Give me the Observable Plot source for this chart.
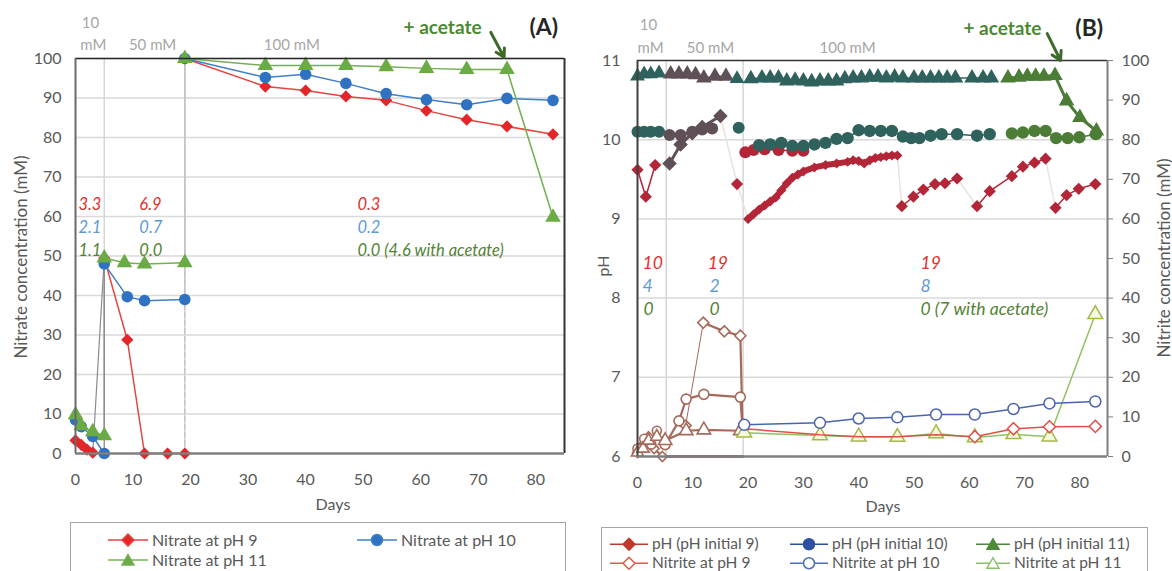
<!DOCTYPE html>
<html><head><meta charset="utf-8">
<script src="https://cdn.jsdelivr.net/npm/d3@7"></script>
<script src="https://cdn.jsdelivr.net/npm/@observablehq/plot@0.6"></script>
<style>
html,body{margin:0;padding:0;background:#fff;}
#wrap{position:relative;width:1172px;height:571px;overflow:hidden;font-family:Lato,"Open Sans",sans-serif;color:#595959;}
.t{position:absolute;white-space:nowrap;font-size:16px;color:#595959;line-height:1;}
.rot{transform:translate(-50%,-50%) rotate(-90deg);}
.ctr{transform:translate(-50%,-50%);}
.legend{position:absolute;border:1.5px solid #a6a6a6;box-sizing:border-box;background:#fff;}
.li{position:absolute;display:flex;align-items:center;white-space:nowrap;color:#595959;transform:translateY(-50%);line-height:1;}
.li svg{margin-right:4px;}
</style></head>
<body><div id="wrap"></div>
<script>
// ================= PANEL A : nitrate concentration (mM) =================
const A9_days1 = [0, 1, 2, 3];
const A9_vals1 = [3.3, 2.2, 1.0, 0.2];
const A9_days2 = [5, 9, 12, 16, 19];
const A9_vals2 = [49.5, 28.8, 0, 0, 0];
const A9_days3 = [19, 33, 40, 47, 54, 61, 68, 75, 83];
const A9_vals3 = [100, 92.9, 91.9, 90.4, 89.4, 86.8, 84.5, 82.8, 80.8];

const A10_days1 = [0, 1, 3, 5];
const A10_vals1 = [8.5, 6.8, 4.3, 0];
const A10_days2 = [5, 9, 12, 19];
const A10_vals2 = [48, 39.7, 38.7, 39];
const A10_days3 = [19, 33, 40, 47, 54, 61, 68, 75, 83];
const A10_vals3 = [100, 95.2, 96, 93.7, 91.1, 89.6, 88.3, 89.9, 89.4];

const A11_days1 = [0, 1, 3, 5];
const A11_vals1 = [9.8, 7, 5.5, 4.5];
const A11_days2 = [5, 8.5, 12, 19];
const A11_vals2 = [49.5, 48.3, 48, 48.3];
const A11_days3 = [19, 33, 40, 47, 54, 61, 68, 75, 83];
const A11_vals3 = [100, 98.2, 98.2, 98.2, 97.9, 97.5, 97.2, 97.2, 59.8];

const phaseDaysA = [5, 19];
const ticksA_x = [0, 10, 20, 30, 40, 50, 60, 70, 80];
const ticksA_y = [0, 10, 20, 30, 40, 50, 60, 70, 80, 90, 100];

const ratesA_text = ["3.3", "2.1", "1.1", "6.9", "0.7", "0.0", "0.3", "0.2", "0.0 (4.6 with acetate)"];
const ratesA_day = [0.5, 0.5, 0.5, 11.1, 11.1, 11.1, 49, 49, 49];
const ratesA_val = [63, 57.2, 51.4, 63, 57.2, 51.4, 63, 57.2, 51.4];

const topA_text = ["10", "mM", "50 mM", "100 mM"];
const topA_day = [2.6, 3.1, 13.4, 37.6];
const topA_val = [108.9, 103.3, 103.3, 103.3];

// ================= PANEL B : pH (left) and nitrite (right) =================
const B9_days1 = [0, 1.5, 3.2];
const B9_vals1 = [9.62, 9.28, 9.68];
const B9_days2 = [5.8, 7.8, 9.9, 11.7, 15];
const B9_vals2 = [9.7, 9.94, 10.08, 10.16, 10.3];
const B9_days2b = [18];
const B9_vals2b = [9.44];
const B9_days3 = [20, 21, 22, 23, 24, 25, 26, 27, 28, 29, 30, 32, 34, 36, 38, 39, 40, 41, 42, 43, 44, 45, 46, 47];
const B9_vals3 = [9.0, 9.06, 9.12, 9.17, 9.22, 9.27, 9.36, 9.45, 9.52, 9.56, 9.6, 9.65, 9.68, 9.7, 9.72, 9.74, 9.73, 9.7, 9.74, 9.77, 9.78, 9.79, 9.8, 9.8];
const B9_days4 = [47.8, 49.9, 51.7, 53.8, 55.6, 57.8];
const B9_vals4 = [9.16, 9.28, 9.37, 9.44, 9.45, 9.51];
const B9_days5 = [61.4, 63.7, 67.7, 69.7, 71.8, 73.8];
const B9_vals5 = [9.16, 9.35, 9.54, 9.66, 9.71, 9.76];
const B9_days6 = [75.6, 77.6, 79.8, 82.8];
const B9_vals6 = [9.14, 9.3, 9.38, 9.44];

const B10_days1 = [0, 1.2, 2.4, 3.9];
const B10_vals1 = [10.1, 10.1, 10.1, 10.1];
const B10_days2 = [5.8, 7.8, 9.9, 11.7, 13.5];
const B10_vals2 = [10.06, 10.06, 10.1, 10.13, 10.14];
const B10_days2b = [18.3];
const B10_vals2b = [10.15];
const B10_daysR = [19.5, 21, 23, 25.5, 28, 30];
const B10_valsR = [9.84, 9.87, 9.88, 9.87, 9.86, 9.86];
const B10_days3 = [22, 24, 26, 28, 30, 32, 34, 36, 38, 40, 42, 44, 46, 48, 49.5, 51, 53, 55, 57.8, 61.4, 63.7];
const B10_vals3 = [9.93, 9.94, 9.96, 9.92, 9.92, 9.94, 9.96, 10.01, 10.02, 10.12, 10.11, 10.11, 10.11, 10.04, 10.02, 10.02, 10.05, 10.07, 10.07, 10.05, 10.07];
const B10_days4 = [67.7, 69.7, 71.8, 73.8, 75.7, 77.8, 79.9, 82.9];
const B10_vals4 = [10.08, 10.09, 10.11, 10.11, 10.02, 10.02, 10.03, 10.07];

const B11_days1 = [0, 1.2, 2.4, 3.9];
const B11_vals1 = [10.8, 10.83, 10.83, 10.84];
const B11_days2 = [6, 7.5, 9, 10.5, 12, 14, 16];
const B11_vals2 = [10.83, 10.83, 10.83, 10.82, 10.78, 10.8, 10.8];
const B11_days2b = [18];
const B11_vals2b = [10.77];
const B11_days3 = [20.5, 22.5, 24, 25.5, 27, 28.5, 30, 31.5, 33, 34.5, 36, 37.5, 39, 40.5, 42, 43.5, 45, 46.5, 48, 50, 51.5, 53, 54.5, 56, 57.5, 60.5, 62.5, 64];
const B11_vals3 = [10.77, 10.78, 10.78, 10.78, 10.74, 10.75, 10.74, 10.73, 10.74, 10.74, 10.74, 10.77, 10.78, 10.78, 10.79, 10.79, 10.78, 10.79, 10.78, 10.78, 10.78, 10.78, 10.78, 10.78, 10.78, 10.78, 10.78, 10.78];
const B11_days4 = [67, 69, 70.5, 72, 73.5, 75.5, 77.6, 80, 83];
const B11_vals4 = [10.78, 10.79, 10.8, 10.8, 10.8, 10.81, 10.49, 10.28, 10.11];

// nitrite (mM), right axis 0-100
const N9_days1 = [0, 1, 2, 3, 4.5];
const N9_vals1 = [1, 3, 5, 2, 0];
const N9_days2 = [5, 8.7, 11.9, 15.7, 18.6, 19];
const N9_vals2 = [0, 7.8, 33.8, 31.6, 30.5, 7];
const N10_days1 = [0, 1.2, 2.5, 3.5];
const N10_vals1 = [2, 4.5, 3, 6.5];
const N10_days2 = [5, 7.5, 8.8, 12, 18.6, 19];
const N10_vals2 = [3, 9, 14.5, 15.7, 15, 7];
const N11_days1 = [0, 1, 2, 3.5];
const N11_vals1 = [1, 2, 4, 5];
const N11_days2 = [5, 8.8, 12, 18.6];
const N11_vals2 = [4, 6.5, 6.7, 6.5];
const Nbase_days = [5, 19];
const Nbase_vals = [0, 0];

const N_days3 = [19.3, 33, 40, 47, 54, 61, 68, 74.5, 82.8];
const N9_vals3 = [7, 5.5, 5, 5, 5.5, 5, 7, 7.5, 7.6];
const N10_vals3 = [8, 8.5, 9.6, 9.9, 10.6, 10.6, 12, 13.4, 13.9];
const N11_vals3 = [6, 5.3, 5, 4.9, 5.8, 4.8, 5.6, 5.0, 35.9];

const phaseDaysB = [5.2, 19.1];
const ticksB_x = [0, 10, 20, 30, 40, 50, 60, 70, 80];
const ticksB_pH = [6, 7, 8, 9, 10, 11];
const ticksB_nitrite = [6, 6.5, 7, 7.5, 8, 8.5, 9, 9.5, 10, 10.5, 11];

const ratesB_text = ["10", "4", "0", "19", "2", "0", "19", "8", "0 (7 with acetate)"];
const ratesB_day = [0.9, 0.9, 1.1, 12.7, 13, 13, 51.2, 51.2, 51.2];
const ratesB_val = [8.437, 8.146, 7.856, 8.437, 8.146, 7.856, 8.437, 8.146, 7.856];

const topB_text = ["10", "mM", "50 mM", "100 mM"];
const topB_day = [2.0, 2.35, 13.2, 38];
const topB_val = [11.44, 11.16, 11.16, 11.16];

// ================= helpers =================
const pts = (days, vals) => days.map((d, i) => ({x: d, y: vals[i]}));
const lbl = (texts, days, vals) => texts.map((t, i) => ({t, x: days[i], y: vals[i], row: i % 3}));
const wrap = document.getElementById("wrap");
const baseStyle = {fontFamily: "Lato, 'Open Sans', sans-serif", fontSize: "16px", color: "#595959", background: "transparent", overflow: "visible"};

function series(data, o) {
  const y = o.y || "y";
  const out = [];
  out.push(Plot.line(data, {x: "x", y, stroke: o.line, strokeWidth: o.sw || 1.5, curve: "linear"}));
  out.push(Plot.dot(data, {x: "x", y, symbol: o.symbol, r: o.r || 5.5, fill: o.fill, stroke: o.stroke || "none", strokeWidth: o.dsw || 1.5}));
  return out;
}
const rateColor = ["#e2302b", "#5b9bd5", "#548235"];

// ================= PANEL A marks =================
const A9 = [pts(A9_days1, A9_vals1), pts(A9_days2, A9_vals2), pts(A9_days3, A9_vals3)];
const A10 = [pts(A10_days1, A10_vals1), pts(A10_days2, A10_vals2), pts(A10_days3, A10_vals3)];
const A11 = [pts(A11_days1, A11_vals1), pts(A11_days2, A11_vals2), pts(A11_days3, A11_vals3)];
const styA = [
  {ser: A9, line: "#e4453f", fill: "#e3262a", symbol: "diamond2", r: 5.5},
  {ser: A10, line: "#3f7fc8", fill: "#2f72c2", symbol: "circle", r: 5.8},
  {ser: A11, line: "#74b053", fill: "#6aab45", symbol: "triangle", r: 5.8}
];
const marksA = [
  Plot.gridY(ticksA_y.slice(1), {stroke: "#d9d9d9", strokeOpacity: 1, strokeWidth: 1.5}),
  Plot.ruleX(phaseDaysA, {stroke: "#d6d6d6", strokeWidth: 1.5})
];
for (const s of styA) {
  marksA.push(Plot.line([s.ser[0].at(-1), s.ser[1][0]], {x: "x", y: "y", stroke: "#8c8c8c", strokeWidth: 1.2}));
  marksA.push(Plot.line([s.ser[1].at(-1), s.ser[2][0]], {x: "x", y: "y", stroke: "#c4c4c4", strokeWidth: 1.3, strokeDasharray: "5,3"}));
}
for (const s of styA) for (const seg of s.ser) marksA.push(...series(seg, s));
marksA.push(
  Plot.ruleY([100], {stroke: "#262626", strokeWidth: 1.5}),
  Plot.ruleX([85], {stroke: "#333333", strokeWidth: 2}),
  Plot.ruleX([0], {stroke: "#6b6b6b", strokeWidth: 2}),
  Plot.ruleY([0], {stroke: "#7f7f7f", strokeWidth: 2.5}),
  Plot.axisY({ticks: ticksA_y, tickSize: 0, tickPadding: 14, label: null, fontSize: 16}),
  Plot.axisX({ticks: ticksA_x, tickSize: 0, tickPadding: 20, label: null, fontSize: 16}),
  Plot.text(lbl(ratesA_text, ratesA_day, ratesA_val), {x: "x", y: "y", text: "t", textAnchor: "start", fontStyle: "italic", fontSize: 16.5, fill: d => rateColor[d.row]}),
  Plot.text(lbl(topA_text, topA_day, topA_val), {x: "x", y: "y", text: "t", fill: "#a6a6a6", fontSize: 15}),
  Plot.text([{x: 63.8, y: 107.8}], {x: "x", y: "y", text: () => "+ acetate", fill: "#4b8a33", fontWeight: "bold", fontSize: 19}),
  Plot.text([{x: 81.4, y: 107.8}], {x: "x", y: "y", text: () => "(A)", fill: "#262626", fontWeight: "bold", fontSize: 23}),
  Plot.arrow([{x1: 72.2, y1: 106.6, x2: 74.5, y2: 100.3}], {x1: "x1", y1: "y1", x2: "x2", y2: "y2", stroke: "#3d6b2c", strokeWidth: 3, headLength: 9})
);
const svgA = Plot.plot({
  width: 580, height: 520,
  marginLeft: 75, marginRight: 16, marginTop: 58, marginBottom: 67,
  x: {domain: [0, 85], label: null},
  y: {domain: [0, 100], label: null},
  style: baseStyle,
  marks: marksA
});
svgA.style.position = "absolute"; svgA.style.left = "0px"; svgA.style.top = "0px";
wrap.appendChild(svgA);

// ================= PANEL B marks =================
const red = "#b32638", teal = "#2f625c", mauve = "#5f5058", grn = "#4b7d37", brown = "#a56a5b";
const nY = d => 6 + d.y / 20;
const p9 = [pts(B9_days1, B9_vals1), pts(B9_days2, B9_vals2), pts(B9_days2b, B9_vals2b), pts(B9_days3, B9_vals3), pts(B9_days4, B9_vals4), pts(B9_days5, B9_vals5), pts(B9_days6, B9_vals6)];
const marksB = [
  Plot.gridY([7, 8, 9, 10], {stroke: "#d9d9d9", strokeOpacity: 1, strokeWidth: 1.5}),
  Plot.ruleX(phaseDaysB, {stroke: "#d6d6d6", strokeWidth: 1.5})
];
for (let i = 1; i < p9.length; i++) {
  marksB.push(Plot.line([p9[i - 1].at(-1), p9[i][0]], {x: "x", y: "y", stroke: "#e9e3dd", strokeWidth: 1.5}));
}
const brownSty = {line: brown, fill: "#fff", stroke: brown, r: 4.5, sw: 2.2, dsw: 1.6, y: nY};
marksB.push(Plot.line(pts(Nbase_days, Nbase_vals), {x: "x", y: nY, stroke: brown, strokeWidth: 3}));
marksB.push(...series(pts(N9_days1, N9_vals1), {...brownSty, symbol: "diamond2"}));
marksB.push(...series(pts(N10_days1, N10_vals1), {...brownSty, symbol: "circle"}));
marksB.push(...series(pts(N11_days1, N11_vals1), {...brownSty, symbol: "triangle"}));
marksB.push(Plot.line(pts(N9_days2, N9_vals2).slice(1, 3), {x: "x", y: nY, stroke: brown, strokeWidth: 1}));
marksB.push(Plot.line(pts(N9_days2, N9_vals2).slice(2), {x: "x", y: nY, stroke: brown, strokeWidth: 2.2}));
marksB.push(Plot.dot(pts(N9_days2, N9_vals2).slice(1, 5), {x: "x", y: nY, symbol: "diamond2", r: 5, fill: "#fff", stroke: brown, strokeWidth: 1.6}));
marksB.push(...series(pts(N10_days2, N10_vals2), {...brownSty, symbol: "circle", r: 5}));
marksB.push(...series(pts(N11_days2, N11_vals2), {...brownSty, symbol: "triangle", r: 5}));
marksB.push(...series(pts(N_days3, N11_vals3), {line: "#8dc45f", fill: "#f6f8dc", stroke: "#a3b94a", symbol: "triangle", r: 5.5, sw: 1.5, y: nY}));
marksB.push(...series(pts(N_days3, N9_vals3).slice(0, 6), {line: "#e0504a", fill: "none", stroke: "none", symbol: "diamond2", r: 0.1, y: nY}));
marksB.push(...series(pts(N_days3, N9_vals3).slice(5), {line: "#e0504a", fill: "#fff", stroke: "#e0504a", symbol: "diamond2", r: 5.5, y: nY}));
marksB.push(...series(pts(N_days3, N10_vals3), {line: "#4c64b0", fill: "#fff", stroke: "#4c64b0", symbol: "circle", r: 5.5, y: nY}));
marksB.push(...series(pts(B10_daysR, B10_valsR), {line: red, fill: red, symbol: "circle", r: 6}));
marksB.push(...series(p9[0], {line: red, fill: red, symbol: "diamond2", r: 5.5}));
marksB.push(...series(p9[1], {line: mauve, fill: mauve, symbol: "diamond2", r: 6.5, sw: 3}));
marksB.push(...series(p9[2], {line: red, fill: red, symbol: "diamond2", r: 5.5}));
marksB.push(...series(p9[3], {line: red, fill: red, symbol: "diamond2", r: 4.5, sw: 6}));
marksB.push(...series(p9[4], {line: red, fill: red, symbol: "diamond2", r: 5.5}));
marksB.push(...series(p9[5], {line: red, fill: red, symbol: "diamond2", r: 5.5}));
marksB.push(...series(p9[6], {line: red, fill: red, symbol: "diamond2", r: 5.5}));
marksB.push(...series(pts(B10_days1, B10_vals1), {line: teal, fill: teal, symbol: "circle", r: 6}));
marksB.push(...series(pts(B10_days2, B10_vals2), {line: mauve, fill: mauve, symbol: "circle", r: 6}));
marksB.push(...series(pts(B10_days2b, B10_vals2b), {line: teal, fill: teal, symbol: "circle", r: 6}));
marksB.push(...series(pts(B10_days3, B10_vals3), {line: teal, fill: teal, symbol: "circle", r: 6.2}));
marksB.push(...series(pts(B10_days4, B10_vals4), {line: grn, fill: grn, symbol: "circle", r: 6.2}));
marksB.push(...series(pts(B11_days1, B11_vals1), {line: teal, fill: teal, symbol: "triangle", r: 5.5}));
marksB.push(...series(pts(B11_days2, B11_vals2), {line: mauve, fill: mauve, symbol: "triangle", r: 5.8}));
marksB.push(...series(pts(B11_days2b, B11_vals2b), {line: teal, fill: teal, symbol: "triangle", r: 5.5}));
marksB.push(...series(pts(B11_days3, B11_vals3), {line: teal, fill: teal, symbol: "triangle", r: 5.8}));
marksB.push(...series(pts(B11_days4, B11_vals4), {line: grn, fill: grn, symbol: "triangle", r: 5.8, sw: 3}));
marksB.push(
  Plot.ruleY([11], {stroke: "#333333", strokeWidth: 1.5}),
  Plot.ruleX([0], {stroke: "#404040", strokeWidth: 2}),
  Plot.ruleX([85], {stroke: "#7f7f7f", strokeWidth: 2}),
  Plot.ruleY([6], {stroke: "#7f7f7f", strokeWidth: 2.5}),
  Plot.axisY({ticks: ticksB_pH, tickSize: 0, tickPadding: 17, label: null, fontSize: 16, tickFormat: d => String(d)}),
  Plot.axisY({anchor: "right", ticks: ticksB_nitrite, tickSize: 5, tickPadding: 9, stroke: "#7f7f7f", label: null, fontSize: 16, tickFormat: d => String(Math.round((d - 6) * 20))}),
  Plot.axisX({ticks: ticksB_x, tickSize: 0, tickPadding: 20, label: null, fontSize: 16}),
  Plot.text(lbl(ratesB_text, ratesB_day, ratesB_val), {x: "x", y: "y", text: "t", textAnchor: "start", fontStyle: "italic", fontSize: 17.5, fill: d => rateColor[d.row]}),
  Plot.text(lbl(topB_text, topB_day, topB_val), {x: "x", y: "y", text: "t", fill: "#a6a6a6", fontSize: 15}),
  Plot.text([{x: 66, y: 11.4}], {x: "x", y: "y", text: () => "+ acetate", fill: "#4b8a33", fontWeight: "bold", fontSize: 19}),
  Plot.text([{x: 81.7, y: 11.4}], {x: "x", y: "y", text: () => "(B)", fill: "#262626", fontWeight: "bold", fontSize: 23}),
  Plot.arrow([{x1: 74.1, y1: 11.34, x2: 76.5, y2: 11.0}], {x1: "x1", y1: "y1", x2: "x2", y2: "y2", stroke: "#3d6b2c", strokeWidth: 3, headLength: 9})
);
const svgB = Plot.plot({
  width: 592, height: 520,
  marginLeft: 57, marginRight: 65, marginTop: 60, marginBottom: 64,
  x: {domain: [0, 85], label: null},
  y: {domain: [6, 11], label: null},
  style: baseStyle,
  marks: marksB
});
svgB.style.position = "absolute"; svgB.style.left = "580px"; svgB.style.top = "0px";
wrap.appendChild(svgB);

// ================= titles (HTML text) =================
function addText(txt, x, y, cls, extra) {
  const d = document.createElement("div");
  d.className = "t " + cls;
  d.textContent = txt;
  d.style.left = x + "px"; d.style.top = y + "px";
  if (extra) Object.assign(d.style, extra);
  wrap.appendChild(d);
}
addText("Nitrate concentration (mM)", 20, 257, "rot", {fontSize: "17px"});
addText("Days", 333, 504, "ctr");
addText("pH", 603, 266, "rot");
addText("Nitrite concentration (mM)", 1163, 258, "rot", {fontSize: "17px"});
addText("Days", 883, 506, "ctr");

// ================= legends =================
const markerSvg = (sym, color, fill, w) => {
  const c = w / 2;
  let shape = "";
  if (sym === "diamond") shape = `<path d="M${c},1L${c + 6},7L${c},13L${c - 6},7Z" fill="${fill}" stroke="${color}" stroke-width="1.5"/>`;
  if (sym === "circle") shape = `<circle cx="${c}" cy="7" r="5.5" fill="${fill}" stroke="${color}" stroke-width="1.5"/>`;
  if (sym === "triangle") shape = `<path d="M${c},1.5L${c + 6},12L${c - 6},12Z" fill="${fill}" stroke="${color}" stroke-width="1.5"/>`;
  return `<svg width="${w}" height="14" viewBox="0 0 ${w} 14"><line x1="0" y1="7" x2="${w}" y2="7" stroke="${color}" stroke-width="1.6"/>${shape}</svg>`;
};
function legend(box, items, fs) {
  const L = document.createElement("div");
  L.className = "legend";
  Object.assign(L.style, {left: box[0] + "px", top: box[1] + "px", width: box[2] + "px", height: box[3] + "px"});
  for (const it of items) {
    const e = document.createElement("div");
    e.className = "li";
    e.style.left = it.x + "px"; e.style.top = it.y + "px"; e.style.fontSize = fs + "px";
    e.innerHTML = markerSvg(it.sym, it.color, it.fill, it.w) + `<span>${it.label}</span>`;
    L.appendChild(e);
  }
  wrap.appendChild(L);
}
const legendA_labels = ["Nitrate at pH 9", "Nitrate at pH 10", "Nitrate at pH 11"];
legend([70, 522, 496, 70], [
  {label: legendA_labels[0], sym: "diamond", color: "#e4453f", fill: "#e3262a", x: 37, y: 17, w: 40},
  {label: legendA_labels[1], sym: "circle", color: "#3f7fc8", fill: "#2f72c2", x: 286, y: 17, w: 40},
  {label: legendA_labels[2], sym: "triangle", color: "#74b053", fill: "#6aab45", x: 37, y: 37, w: 40}
], 16);
const legendB_labels = ["pH (pH initial 9)", "pH (pH initial 10)", "pH (pH initial 11)", "Nitrite at pH 9", "Nitrite at pH 10", "Nitrite at pH 11"];
legend([601, 527, 547, 70], [
  {label: legendB_labels[0], sym: "diamond", color: "#c0392b", fill: "#c0392b", x: 8, y: 16, w: 38},
  {label: legendB_labels[1], sym: "circle", color: "#2f4fa0", fill: "#2f4fa0", x: 188, y: 16, w: 38},
  {label: legendB_labels[2], sym: "triangle", color: "#4e8a3a", fill: "#4e8a3a", x: 374, y: 16, w: 34},
  {label: legendB_labels[3], sym: "diamond", color: "#e05a4e", fill: "#fff", x: 8, y: 35, w: 38},
  {label: legendB_labels[4], sym: "circle", color: "#4a6fb5", fill: "#fff", x: 188, y: 35, w: 38},
  {label: legendB_labels[5], sym: "triangle", color: "#8cc06a", fill: "#fff", x: 374, y: 35, w: 34}
], 15.5);
</script></body></html>
